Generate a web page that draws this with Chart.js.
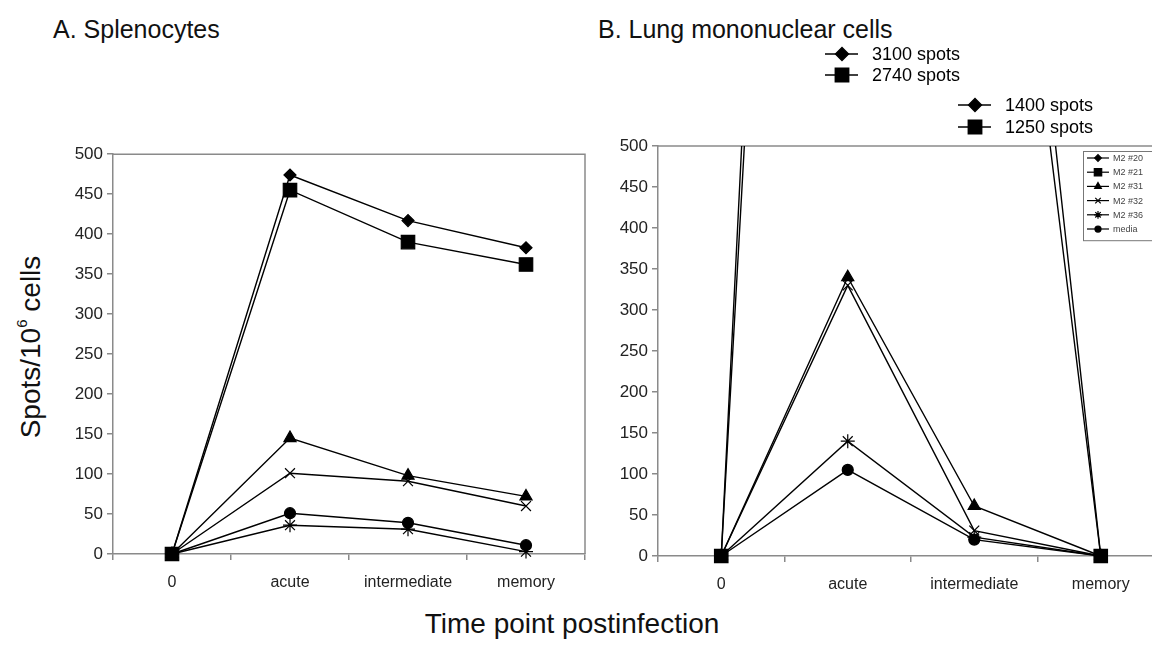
<!DOCTYPE html>
<html>
<head>
<meta charset="utf-8">
<script src="https://cdn.jsdelivr.net/npm/chart.js@4/dist/chart.umd.min.js"></script>
<style>
  body { margin: 0; background: #fff; width: 1152px; height: 646px; position: relative; overflow: hidden;
         font-family: "Liberation Sans", Arial, sans-serif; color: #111; }
  .t { position: absolute; white-space: nowrap; }
  #titleA { left: 53px; top: 15px; font-size: 25px; }
  #titleB { left: 598px; top: 15px; font-size: 25px; }
  #yTitle { left: 30px; top: 347px; font-size: 28px; transform: translate(-50%, -50%) rotate(-90deg); }
  #yTitle sup { font-size: 15px; vertical-align: 13px; }
  #xTitle { left: 572px; top: 608px; font-size: 28px; transform: translateX(-50%); }
  #chartA { position: absolute; left: 60px; top: 140px; }
  #chartB { position: absolute; left: 600px; top: 40px; }
</style>
</head>
<body>
<div class="t" id="titleA">A. Splenocytes</div>
<div class="t" id="titleB">B. Lung mononuclear cells</div>
<div class="t" id="yTitle">Spots/10<sup>6</sup> cells</div>
<div class="t" id="xTitle">Time point postinfection</div>
<canvas id="chartA" width="545" height="470"></canvas>
<canvas id="chartB" width="580" height="572"></canvas>
<script>
// categorias y series
const timePoints = ['0', 'acute', 'intermediate', 'memory'];
const seriesNames = ['M2 #20', 'M2 #21', 'M2 #31', 'M2 #32', 'M2 #36', 'media'];
const markers = ['rectRot', 'rect', 'triangle', 'crossRot', 'star', 'circle'];
const markerSizes = [6, 9.5, 7, 7, 7, 5.5];

// A. Splenocytes
const spleenM2_20 = [0, 474, 417, 383];
const spleenM2_21 = [0, 455, 390, 362];
const spleenM2_31 = [0, 145, 98, 72];
const spleenM2_32 = [0, 101, 91, 60];
const spleenM2_36 = [0, 36, 31, 3];
const spleenMedia = [0, 51, 39, 11];

// B. Lung mononuclear cells (M2 #20 / #21 se salen del eje)
const lungM2_20 = [0, 3100, 1400, 0];
const lungM2_21 = [0, 2740, 1250, 0];
const lungM2_31 = [0, 340, 61, 0];
const lungM2_32 = [0, 330, 31, 0];
const lungM2_36 = [0, 140, 23, 0];
const lungMedia = [0, 105, 20, 0];

// etiquetas fuera de escala
const offScaleLabels = ['3100 spots', '2740 spots', '1400 spots', '1250 spots'];
const offScaleMarkers = ['rectRot', 'rect', 'rectRot', 'rect'];

const yMin = 0, yMax = 500, yStep = 50;

const axisGray = '#8a8a8a';

const makeDatasets = (seriesList) => seriesList.map((values, i) => ({
  label: seriesNames[i],
  data: values,
  borderColor: '#000',
  backgroundColor: '#000',
  borderWidth: 1.4,
  pointStyle: markers[i],
  pointRadius: markerSizes[i],
  pointBorderWidth: 1.2,
  pointBorderColor: '#000',
  pointBackgroundColor: '#000',
  tension: 0,
  clip: { left: 12, right: 12, top: 0, bottom: 12 }
}));

const plotBorder = {
  id: 'plotBorder',
  beforeDatasetsDraw(chart) {
    const { ctx, chartArea: a } = chart;
    ctx.save();
    ctx.strokeStyle = axisGray;
    ctx.lineWidth = 1.5;
    ctx.beginPath();
    ctx.moveTo(a.left, a.top);
    ctx.lineTo(a.right, a.top);
    ctx.lineTo(a.right, a.bottom);
    ctx.stroke();
    ctx.restore();
  }
};

// leyenda pequeña dentro del panel B
const boxLegend = {
  id: 'boxLegend',
  afterDatasetsDraw(chart) {
    const { ctx } = chart;
    const x0 = 483, y0 = 111, rowH = 14.2;
    ctx.save();
    ctx.fillStyle = '#fff';
    ctx.fillRect(x0, y0, 90, rowH * 6 + 4);
    ctx.strokeStyle = '#777';
    ctx.lineWidth = 1;
    ctx.strokeRect(x0 + 0.5, y0 + 0.5, 90, rowH * 6 + 4);
    chart.data.datasets.forEach((ds, i) => {
      const y = y0 + 7 + i * rowH;
      ctx.strokeStyle = '#000';
      ctx.lineWidth = 1.2;
      ctx.beginPath();
      ctx.moveTo(x0 + 4, y);
      ctx.lineTo(x0 + 26, y);
      ctx.stroke();
      ctx.fillStyle = '#000';
      Chart.helpers.drawPoint(ctx, { pointStyle: ds.pointStyle, radius: ds.pointRadius * 0.55, borderWidth: 1 }, x0 + 15, y);
      ctx.fillStyle = '#444';
      ctx.font = '9px "Liberation Sans", Arial, sans-serif';
      ctx.textBaseline = 'middle';
      ctx.fillText(ds.label, x0 + 30, y + 0.5);
    });
    ctx.restore();
  }
};

// rotulos de valores fuera de escala (arriba del panel B)
const offScale = {
  id: 'offScale',
  afterDraw(chart) {
    const { ctx } = chart;
    const spots = [[242, 14], [242, 35], [375, 65], [375, 87]];
    ctx.save();
    offScaleLabels.forEach((txt, i) => {
      const [mx, my] = spots[i];
      ctx.strokeStyle = '#000';
      ctx.lineWidth = 1.4;
      ctx.beginPath();
      ctx.moveTo(mx - 17, my);
      ctx.lineTo(mx + 16, my);
      ctx.stroke();
      ctx.fillStyle = '#000';
      Chart.helpers.drawPoint(ctx, { pointStyle: offScaleMarkers[i], radius: offScaleMarkers[i] === 'rect' ? 9.5 : 6.5, borderWidth: 1 }, mx, my);
      ctx.font = '18px "Liberation Sans", Arial, sans-serif';
      ctx.textBaseline = 'middle';
      ctx.fillText(txt, mx + 30, my + 1);
    });
    ctx.restore();
  }
};

const makeOptions = (yWidth, padTop, padRight) => ({
  responsive: false,
  animation: false,
  layout: { padding: { top: padTop, right: padRight, left: 0, bottom: 0 } },
  plugins: { legend: { display: false }, tooltip: { enabled: false } },
  scales: {
    x: {
      offset: true,
      grid: { offset: true, drawOnChartArea: false, tickLength: 6, color: axisGray, lineWidth: 1.5 },
      border: { color: axisGray, width: 1.5 },
      ticks: { color: '#222', font: { size: 16, family: '"Liberation Sans", Arial, sans-serif' }, padding: 13, maxRotation: 0 },
      afterFit: (scale) => { scale.height = 56; }
    },
    y: {
      min: yMin,
      max: yMax,
      ticks: { stepSize: yStep, color: '#222', font: { size: 17, family: '"Liberation Sans", Arial, sans-serif' }, padding: 4 },
      grid: { drawOnChartArea: false, tickLength: 6, color: axisGray, lineWidth: 1.5 },
      border: { color: axisGray, width: 1.5 },
      afterFit: (scale) => { scale.width = yWidth; }
    }
  }
});

new Chart(document.getElementById('chartA'), {
  type: 'line',
  data: {
    labels: timePoints,
    datasets: makeDatasets([spleenM2_20, spleenM2_21, spleenM2_31, spleenM2_32, spleenM2_36, spleenMedia])
  },
  options: makeOptions(53, 9, 20),
  plugins: [plotBorder]
});

new Chart(document.getElementById('chartB'), {
  type: 'line',
  data: {
    labels: timePoints,
    datasets: makeDatasets([lungM2_20, lungM2_21, lungM2_31, lungM2_32, lungM2_36, lungMedia])
  },
  options: makeOptions(58, 106, 16),
  plugins: [plotBorder, boxLegend, offScale]
});
</script>
</body>
</html>
